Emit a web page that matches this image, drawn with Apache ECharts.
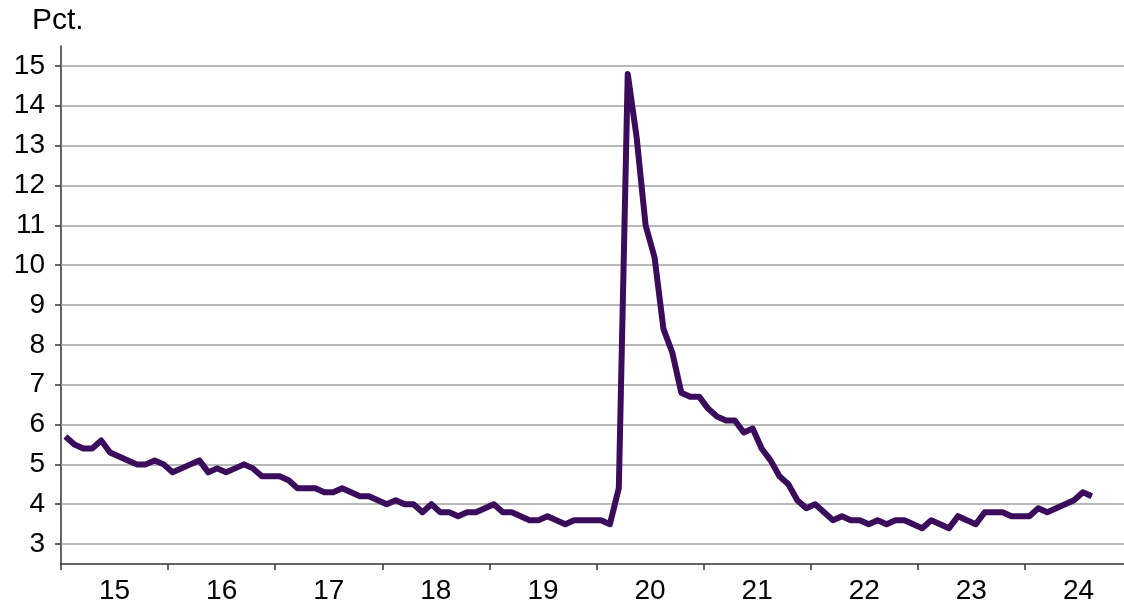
<!DOCTYPE html>
<html><head><meta charset="utf-8">
<script src="https://cdn.jsdelivr.net/npm/echarts@6/dist/echarts.min.js"></script>
<style>html,body{margin:0;padding:0;background:#fff}#c{width:1124px;height:608px}</style>
</head><body><div id="c"></div>
<script>
const yearLabels = ['15','16','17','18','19','20','21','22','23','24'];
const yTicks = [3,4,5,6,7,8,9,10,11,12,13,14,15];
const rate2015 = [5.7,5.5,5.4,5.4,5.6,5.3,5.2,5.1,5.0,5.0,5.1,5.0];
const rate2016 = [4.8,4.9,5.0,5.1,4.8,4.9,4.8,4.9,5.0,4.9,4.7,4.7];
const rate2017 = [4.7,4.6,4.4,4.4,4.4,4.3,4.3,4.4,4.3,4.2,4.2,4.1];
const rate2018 = [4.0,4.1,4.0,4.0,3.8,4.0,3.8,3.8,3.7,3.8,3.8,3.9];
const rate2019 = [4.0,3.8,3.8,3.7,3.6,3.6,3.7,3.6,3.5,3.6,3.6,3.6];
const rate2020 = [3.6,3.5,4.4,14.8,13.2,11.0,10.2,8.4,7.8,6.8,6.7,6.7];
const rate2021 = [6.4,6.2,6.1,6.1,5.8,5.9,5.4,5.1,4.7,4.5,4.1,3.9];
const rate2022 = [4.0,3.8,3.6,3.7,3.6,3.6,3.5,3.6,3.5,3.6,3.6,3.5];
const rate2023 = [3.4,3.6,3.5,3.4,3.7,3.6,3.5,3.8,3.8,3.8,3.7,3.7];
const rate2024 = [3.7,3.9,3.8,3.9,4.0,4.1,4.3,4.2];

const values = [].concat(rate2015,rate2016,rate2017,rate2018,rate2019,rate2020,rate2021,rate2022,rate2023,rate2024);
const data = values.map((v,i)=>[i+0.5,v]);
const tickPos = yearLabels.map((_,i)=>i*12).concat([120]);
const labelPos = yearLabels.map((_,i)=>i*12+6);

const chart = echarts.init(document.getElementById('c'));
const font = 'Liberation Sans, Arial, sans-serif';
chart.setOption({
  animation:false,
  backgroundColor:'#fff',
  grid:{left:61, top:46, width:1071, bottom:44, containLabel:false, outerBoundsMode:'none'},
  graphic:[{type:'text', left:32, top:6, style:{text:'Pct.', font:'30px '+font, fill:'#000'}}],
  xAxis:{
    type:'value', min:0, max:120,
    axisLine:{show:true, lineStyle:{color:'#333', width:1.5}},
    splitLine:{show:false},
    axisTick:{show:true, length:6, lineStyle:{color:'#333', width:1.5}, customValues:tickPos},
    axisLabel:{customValues:labelPos, fontSize:28, fontFamily:font, color:'#000', margin:13,
      formatter:function(v){return yearLabels[Math.floor(v/12)];}}
  },
  yAxis:{
    type:'value', min:2.5, max:15.5,
    axisLine:{show:true, lineStyle:{color:'#333', width:1.5}},
    splitLine:{show:false},
    axisTick:{show:true, length:6, lineStyle:{color:'#333', width:1.5}, customValues:yTicks},
    axisLabel:{customValues:yTicks, fontSize:28, fontFamily:font, color:'#000', margin:16}
  },
  series:[{
    type:'line', data:data, showSymbol:false, symbol:'none',
    lineStyle:{color:'#3B0B5C', width:6, join:'round'},
    markLine:{silent:true, symbol:['none','none'], label:{show:false},
      lineStyle:{color:'#a0a0a0', width:1.5, type:'solid'},
      data:yTicks.map(t=>({yAxis:t})), z:1},
    z:5
  }]
});
</script></body></html>
